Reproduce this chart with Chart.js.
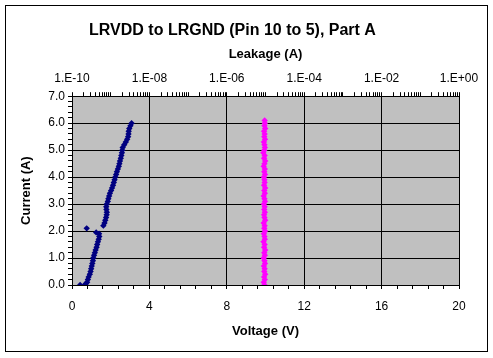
<!DOCTYPE html>
<html>
<head>
<meta charset="utf-8">
<script src="https://cdn.jsdelivr.net/npm/chart.js@4"></script>
<style>
  html, body { margin: 0; padding: 0; background: #fff; }
  #wrap { width: 493px; height: 358px; }
</style>
</head>
<body>
<div id="wrap"><canvas id="chart" width="493" height="358"></canvas></div>
<script>
// Part A, voltage sweep (dark blue) and leakage (magenta) vs current
const sweepVoltage = [0.42, 0.65, 0.72, 0.78, 0.82, 0.86, 0.92, 0.96, 0.99, 1.02, 1.05, 1.08, 1.10, 1.14,
  1.18, 1.22, 1.27, 1.30, 1.34, 1.38, 1.41, 1.40, 1.25, 0.76, 1.62, 1.68, 1.72, 1.76, 1.79, 1.80, 1.78,
  1.77, 1.80, 1.85, 1.88, 1.92, 1.96, 2.02, 2.07, 2.12, 2.16, 2.20, 2.24, 2.28, 2.32, 2.37, 2.42, 2.45,
  2.48, 2.52, 2.55, 2.58, 2.60, 2.62, 2.70, 2.78, 2.85, 2.90, 2.92, 2.93, 2.96, 3.02, 3.08];
const sweepCurrent = [0.00, 0.00, 0.05, 0.10, 0.20, 0.30, 0.40, 0.50, 0.60, 0.70, 0.80, 0.90, 1.00, 1.10,
  1.20, 1.30, 1.40, 1.50, 1.60, 1.70, 1.80, 1.90, 1.95, 2.10, 2.20, 2.30, 2.40, 2.50, 2.60, 2.70, 2.80,
  2.90, 3.00, 3.10, 3.20, 3.30, 3.40, 3.50, 3.60, 3.70, 3.80, 3.90, 4.00, 4.10, 4.20, 4.30, 4.40, 4.50,
  4.60, 4.70, 4.80, 4.90, 5.00, 5.10, 5.20, 5.30, 5.40, 5.50, 5.60, 5.70, 5.80, 5.90, 6.00];

const leakage = [9.4e-6, 9.0e-6, 9.6e-6, 9.2e-6, 9.8e-6, 9.3e-6, 9.5e-6, 9.1e-6, 9.7e-6, 9.4e-6, 9.0e-6,
  9.6e-6, 9.3e-6, 9.8e-6, 9.2e-6, 9.5e-6, 8.9e-6, 9.6e-6, 9.4e-6, 9.1e-6, 9.7e-6, 9.3e-6, 9.5e-6, 9.0e-6,
  9.8e-6, 9.4e-6, 9.2e-6, 9.6e-6, 9.3e-6, 9.5e-6, 9.1e-6, 9.7e-6, 9.4e-6, 9.0e-6, 9.6e-6, 9.3e-6, 9.8e-6,
  9.2e-6, 9.5e-6, 9.4e-6, 9.1e-6, 9.7e-6, 9.3e-6, 9.6e-6, 9.0e-6, 9.4e-6, 9.8e-6, 9.2e-6, 9.5e-6, 8.8e-6,
  9.3e-6, 9.6e-6, 9.4e-6, 9.1e-6, 9.7e-6, 9.3e-6, 9.5e-6, 9.2e-6, 9.8e-6, 9.4e-6, 9.6e-6, 9.5e-6];
const leakageCurrent = [0.0, 0.1, 0.2, 0.3, 0.4, 0.5, 0.6, 0.7, 0.8, 0.9, 1.0, 1.1, 1.2, 1.3, 1.4, 1.5,
  1.6, 1.7, 1.8, 1.9, 2.0, 2.1, 2.2, 2.3, 2.4, 2.5, 2.6, 2.7, 2.8, 2.9, 3.0, 3.1, 3.2, 3.3, 3.4, 3.5,
  3.6, 3.7, 3.8, 3.9, 4.0, 4.1, 4.2, 4.3, 4.4, 4.5, 4.6, 4.7, 4.8, 4.9, 5.0, 5.1, 5.2, 5.3, 5.4, 5.5,
  5.6, 5.7, 5.8, 5.9, 6.0, 6.1];

// axis ticks
const voltageTicks = [0, 4, 8, 12, 16, 20];
const currentTicks = [0, 1, 2, 3, 4, 5, 6, 7];
const leakageTicks = [1e-10, 1e-8, 1e-6, 1e-4, 1e-2, 1];
const leakageLabels = ['1.E-10', '1.E-08', '1.E-06', '1.E-04', '1.E-02', '1.E+00'];

const FONT = 'Arial, "Liberation Sans", sans-serif';

function pairs(xs, ys) {
  return xs.map((x, i) => ({ x: x, y: ys[i] }));
}

// white page, outer frame and grey plot area
const framePlugin = {
  id: 'frame',
  beforeDraw(chart) {
    const ctx = chart.ctx;
    const a = chart.chartArea;
    ctx.save();
    ctx.fillStyle = '#ffffff';
    ctx.fillRect(0, 0, chart.width, chart.height);
    ctx.strokeStyle = '#000000';
    ctx.lineWidth = 1;
    ctx.strokeRect(5.5, 5.5, 482, 346);
    ctx.fillStyle = '#c0c0c0';
    ctx.fillRect(a.left, a.top, a.right - a.left, a.bottom - a.top);
    ctx.restore();
  }
};

const isMajor = (list, v) => list.some(t => Math.abs(t - v) < 1e-9);

new Chart(document.getElementById('chart'), {
  type: 'scatter',
  data: {
    datasets: [{
      label: 'Voltage',
      data: pairs(sweepVoltage, sweepCurrent),
      xAxisID: 'x',
      yAxisID: 'y',
      pointStyle: 'rectRot',
      pointRadius: 3.2,
      pointBackgroundColor: '#000080',
      pointBorderColor: '#000080',
      pointBorderWidth: 0
    }, {
      label: 'Leakage',
      data: pairs(leakage, leakageCurrent),
      xAxisID: 'x2',
      yAxisID: 'y',
      pointStyle: 'rectRot',
      pointRadius: 3.2,
      pointBackgroundColor: '#ff00ff',
      pointBorderColor: '#ff00ff',
      pointBorderWidth: 0
    }]
  },
  options: {
    responsive: false,
    animation: false,
    layout: { padding: { left: 6, right: 34, top: 0, bottom: 6 } },
    plugins: {
      legend: { display: false },
      tooltip: { enabled: false },
      title: {
        display: true,
        text: 'LRVDD to LRGND (Pin 10 to 5), Part A',
        color: '#000',
        font: { family: FONT, size: 16, weight: 'bold', lineHeight: 1.2 },
        padding: { top: 21, bottom: 0 }
      }
    },
    scales: {
      x: {
        type: 'linear',
        position: 'bottom',
        min: 0,
        max: 20,
        afterFit(s) { s.height = 67; },
        afterBuildTicks(s) {
          const t = [];
          for (let i = 0; i <= 25; i++) t.push({ value: Math.round(i * 0.8 * 10) / 10 });
          s.ticks = t;
        },
        ticks: {
          color: '#000',
          font: { family: FONT, size: 12 },
          padding: 10,
          maxRotation: 0,
          autoSkip: false,
          callback: v => isMajor(voltageTicks, v) ? String(v) : ''
        },
        grid: {
          color: c => (c.tick && isMajor(voltageTicks, c.tick.value)) ? '#000' : 'rgba(0,0,0,0)',
          tickColor: '#000',
          tickLength: 4,
          lineWidth: 1
        },
        border: { display: true, color: '#000' },
        title: {
          display: true,
          text: 'Voltage (V)',
          color: '#000',
          font: { family: FONT, size: 13, weight: 'bold', lineHeight: 1.2 },
          padding: { top: 0, bottom: 13 }
        }
      },
      x2: {
        type: 'logarithmic',
        position: 'top',
        min: 1e-10,
        max: 1,
        afterFit(s) { s.height = 56; },
        afterBuildTicks(s) {
          const t = [];
          for (let e = -10; e < 0; e++) {
            for (let m = 1; m <= 9; m++) t.push({ value: m * Math.pow(10, e) });
          }
          t.push({ value: 1 });
          s.ticks = t;
        },
        ticks: {
          color: '#000',
          font: { family: FONT, size: 12 },
          padding: 6,
          maxRotation: 0,
          autoSkip: false,
          callback(v) {
            const i = leakageTicks.findIndex(t => Math.abs(Math.log10(t) - Math.log10(v)) < 1e-6);
            return i >= 0 ? leakageLabels[i] : '';
          }
        },
        grid: {
          drawOnChartArea: false,
          tickColor: '#000',
          tickLength: 4
        },
        border: { display: true, color: '#000' },
        title: {
          display: true,
          text: 'Leakage (A)',
          color: '#000',
          font: { family: FONT, size: 13, weight: 'bold', lineHeight: 1.2 },
          padding: { top: 6, bottom: 0 }
        }
      },
      y: {
        type: 'linear',
        position: 'left',
        min: 0,
        max: 7,
        afterFit(s) { s.width = 66; },
        afterBuildTicks(s) {
          const t = [];
          for (let i = 0; i <= 35; i++) t.push({ value: Math.round(i * 2) / 10 });
          s.ticks = t;
        },
        ticks: {
          color: '#000',
          font: { family: FONT, size: 12 },
          padding: 3,
          autoSkip: false,
          callback: v => isMajor(currentTicks, v) ? v.toFixed(1) : ''
        },
        grid: {
          color: c => (c.tick && isMajor(currentTicks, c.tick.value)) ? '#000' : 'rgba(0,0,0,0)',
          tickColor: '#000',
          tickLength: 4,
          lineWidth: 1
        },
        border: { display: true, color: '#000' },
        title: {
          display: true,
          text: 'Current (A)',
          color: '#000',
          font: { family: FONT, size: 13, weight: 'bold', lineHeight: 1.2 },
          padding: { top: 13, bottom: 0 }
        }
      }
    }
  },
  plugins: [framePlugin]
});
</script>
</body>
</html>
